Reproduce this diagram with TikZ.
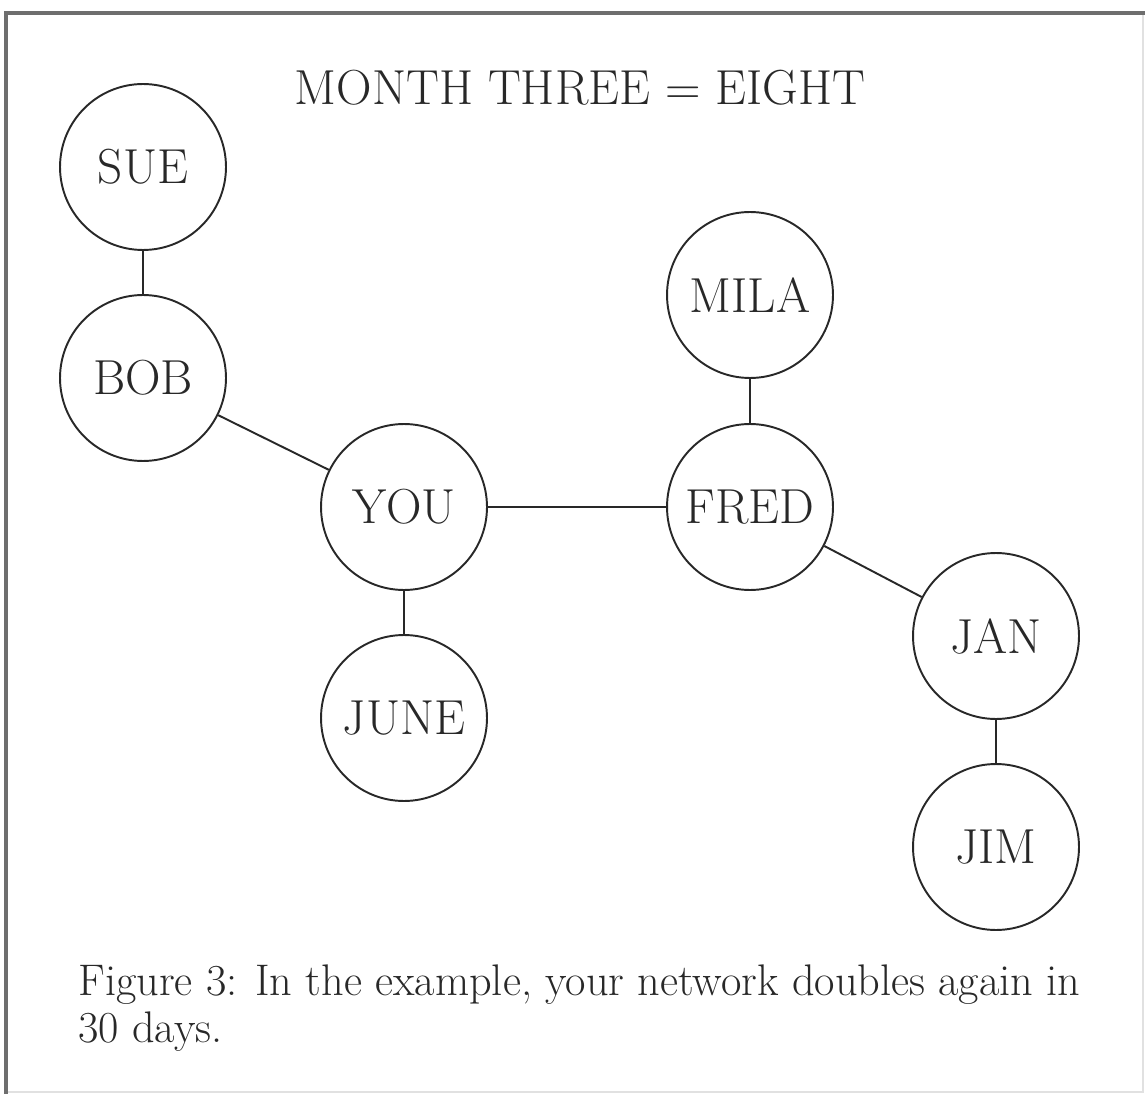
\documentclass[tikz,border=0pt]{standalone}
\usetikzlibrary{positioning}
\definecolor{framegray}{RGB}{110,110,110}
\definecolor{paleframe}{RGB}{225,225,225}
\definecolor{inkgray}{RGB}{40,40,40}
\tikzset{person/.style={ % one circle per member of the network
           circle,draw=inkgray,line width=1.1pt,
           minimum size=3.32cm,inner sep=0pt,
           text=inkgray,font=\fontsize{28}{32}\selectfont},
         link/.style={draw=inkgray,line width=1.1pt},
         captionline/.style={anchor=base west,inner sep=0pt,text=inkgray,
           font=\fontsize{25.2}{28}\selectfont}}

\begin{document}
\begin{tikzpicture}[x=0.02cm,y=-0.02cm]
\useasboundingbox (0,0) rectangle (1145,1094);
% frame
\draw[paleframe,line width=1pt] (1143,13) -- (1143,1092) -- (6,1092);
\draw[framegray,line width=2pt] (6,1094) -- (6,13) -- (1145,13);

\node[text=inkgray,font=\fontsize{28}{32}\selectfont] (title) at (580,88) {MONTH THREE = EIGHT};

\begin{scope}[every node/.style={person}]
    \node (sue) at (143,167) {SUE};
    \node (bob) at (143,378) {BOB};
    \node (you) at (404,507) {YOU};
    \node (june) at (404,718) {JUNE};
    \node (fred) at (750,507) {FRED};
    \node (mila) at (750,295) {MILA};
    \node (jan) at (996,636) {JAN};
    \node (jim) at (996,847) {JIM};
\end{scope}

\begin{scope}[every edge/.style={link}]
    \path [-] (sue) edge (bob);
    \path [-] (bob) edge (you);
    \path [-] (you) edge (june);
    \path [-] (you) edge (fred);
    \path [-] (fred) edge (mila);
    \path [-] (fred) edge (jan);
    \path [-] (jan) edge (jim);
\end{scope}

\node[captionline] (caption) at (78,995)
    {Figure 3: In the example, your network doubles again in};
\node[captionline] (captiontail) at (78,1042) {30 days.};
\end{tikzpicture}
\end{document}
